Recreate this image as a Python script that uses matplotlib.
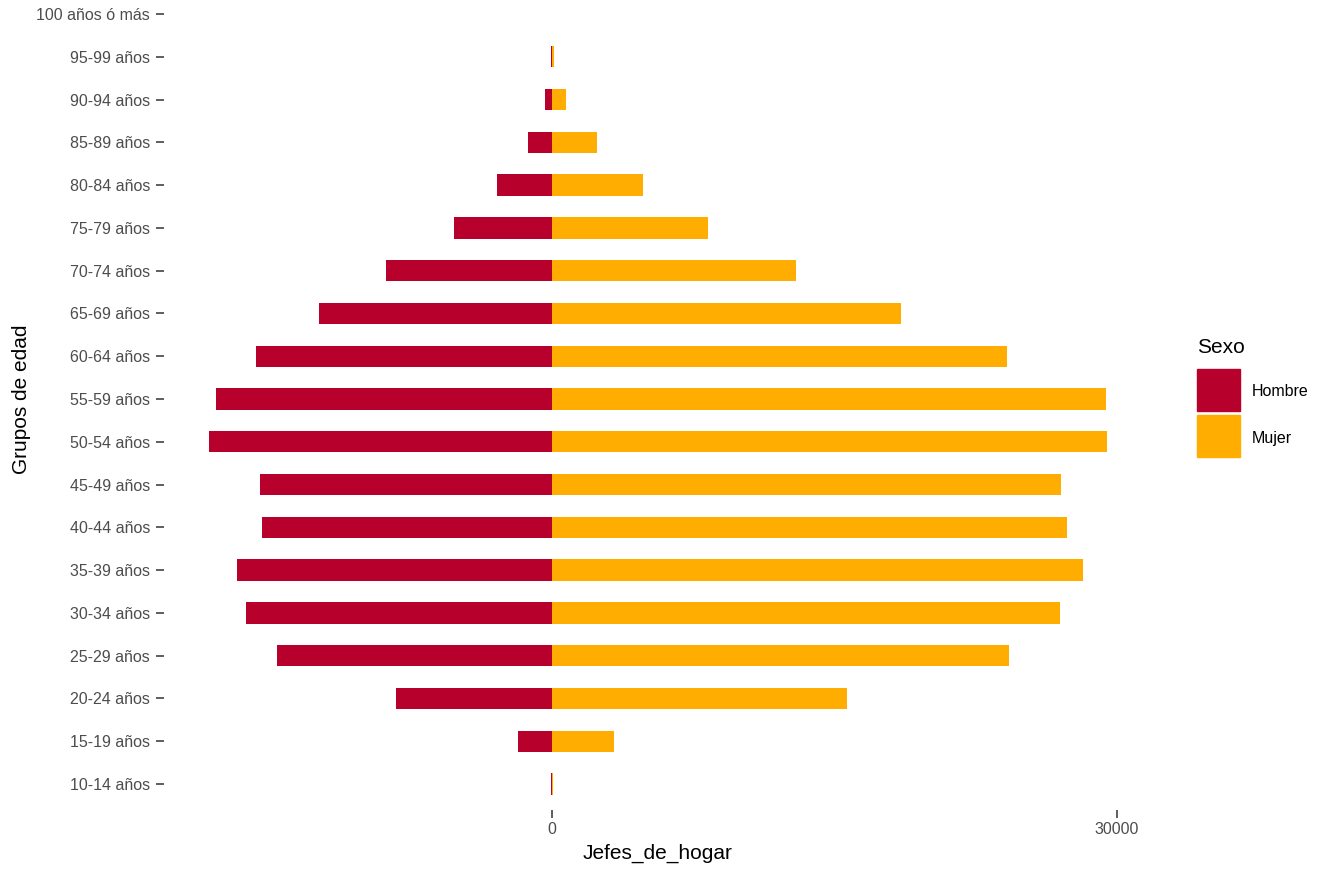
import matplotlib
matplotlib.use("Agg")
import matplotlib.pyplot as plt
from matplotlib.patches import Rectangle

plt.rcParams['font.family'] = ['Liberation Sans', 'DejaVu Sans']

grupos = ["10-14 años", "15-19 años", "20-24 años", "25-29 años", "30-34 años",
          "35-39 años", "40-44 años", "45-49 años", "50-54 años", "55-59 años",
          "60-64 años", "65-69 años", "70-74 años", "75-79 años", "80-84 años",
          "85-89 años", "90-94 años", "95-99 años", "100 años ó más"]
hombre = [60, 1800, 8280, 14600, 16250, 16730, 15400, 15500, 18210, 17840,
          15720, 12370, 8810, 5200, 2920, 1270, 370, 60, 0]
mujer = [60, 3290, 15660, 24270, 26970, 28190, 27350, 27030, 29470, 29420,
         24160, 18530, 12960, 8280, 4830, 2390, 740, 100, 0]
xticks = [0, 30000]
sexos = ["Hombre", "Mujer"]
colores = ["#B8002D", "#FFAD00"]

W, H = 1320, 869
fig = plt.figure(figsize=(W / 100, H / 100), dpi=100)
left, right = 164, 1152
top, bottom = -11.7, 809.7
ax = fig.add_axes([left / W, (H - bottom) / H, (right - left) / W, (bottom - top) / H])

y = list(range(1, len(grupos) + 1))
ax.barh(y, [-v for v in hombre], height=0.5, color=colores[0], label=sexos[0])
ax.barh(y, mujer, height=0.5, color=colores[1], label=sexos[1])

ax.set_ylim(0.4, len(grupos) + 0.6)
ax.set_xlim(-20594, 31854)
ax.set_yticks(y)
ax.set_yticklabels(grupos)
ax.set_xticks(xticks)
ax.set_xticklabels([str(t) for t in xticks])
for s in ax.spines.values():
    s.set_visible(False)
ax.tick_params(axis='both', length=6, width=1.1, color='#333333',
               labelcolor='#4D4D4D', labelsize=11.5)
ax.tick_params(axis='y', pad=4)
ax.tick_params(axis='x', pad=3)
ax.set_ylabel("Grupos de edad", fontsize=15, color='black', labelpad=4)
ax.set_xlabel("Jefes_de_hogar", fontsize=15, color='black', labelpad=5)

# legend
fig.text(1197 / W, 1 - 348 / H, "Sexo", fontsize=15, va='center', ha='left')
for i, (lab, col) in enumerate(zip(sexos, colores)):
    y0 = 369 + i * 46
    fig.add_artist(Rectangle((1197 / W, 1 - (y0 + 42) / H), 43 / W, 42 / H,
                             transform=fig.transFigure, color=col))
    fig.text(1252 / W, 1 - (y0 + 23) / H, lab, fontsize=11.5, va='center', ha='left')

fig.savefig("out.png", dpi=100)
